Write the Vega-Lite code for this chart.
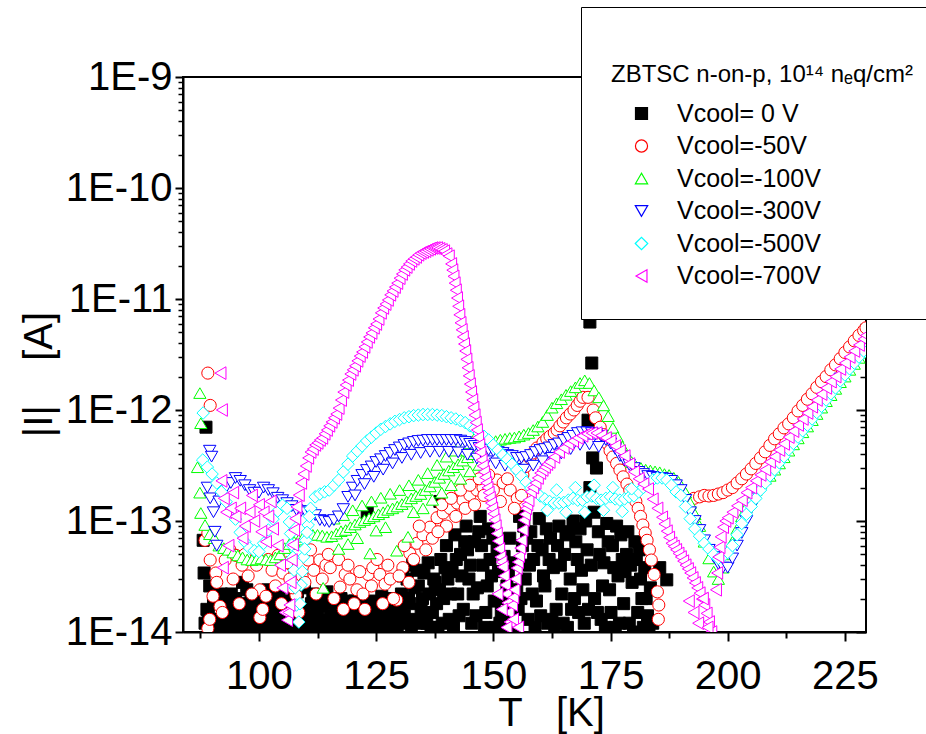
{
"$schema":"https://vega.github.io/schema/vega-lite/v6.json",
"width":683,"height":555,
"autosize":{"type":"none"},
"padding":{"left":183,"top":77,"right":60,"bottom":102},
"background":"white",
"config":{"view":{"stroke":"black","strokeWidth":2},"font":"Liberation Sans","axis":{"grid":false}},
"data":{"values":[
{"V":"0","T":88.1,"I":6.7e-14},{"V":"0","T":88.3,"I":3.4e-14},{"V":"0","T":88.7,"I":7.0e-13},{"V":"0","T":88.5,"I":1.2e-14},{"V":"0","T":89.2,"I":1.5e-14},{"V":"0","T":89.8,"I":1.1e-14},{"V":"0","T":90.3,"I":1.8e-14},{"V":"0","T":90.9,"I":1.3e-14},{"V":"0","T":91.5,"I":1.0e-14},{"V":"0","T":92.0,"I":2.2e-14},{"V":"0","T":92.6,"I":1.4e-14},{"V":"0","T":93.2,"I":1.2e-14},{"V":"0","T":93.8,"I":1.7e-14},{"V":"0","T":94.4,"I":1.1e-14},{"V":"0","T":95.0,"I":2.0e-14},{"V":"0","T":95.6,"I":1.3e-14},{"V":"0","T":96.2,"I":1.6e-14},{"V":"0","T":96.8,"I":1.1e-14},{"V":"0","T":97.4,"I":2.4e-14},{"V":"0","T":98.0,"I":1.5e-14},{"V":"0","T":98.6,"I":1.2e-14},{"V":"0","T":99.2,"I":1.8e-14},{"V":"0","T":99.8,"I":1.05e-14},{"V":"0","T":100.4,"I":1.4e-14},{"V":"0","T":101.0,"I":2.1e-14},{"V":"0","T":101.6,"I":1.2e-14},{"V":"0","T":102.2,"I":1.6e-14},{"V":"0","T":102.8,"I":1.1e-14},{"V":"0","T":103.4,"I":1.9e-14},{"V":"0","T":104.0,"I":1.3e-14},{"V":"0","T":104.6,"I":1.0e-14},{"V":"0","T":105.2,"I":1.5e-14},{"V":"0","T":105.8,"I":1.2e-14},{"V":"0","T":106.4,"I":1.7e-14},{"V":"0","T":107.0,"I":1.1e-14},{"V":"0","T":107.6,"I":1.4e-14},{"V":"0","T":108.2,"I":2.3e-14},{"V":"0","T":108.8,"I":1.2e-14},{"V":"0","T":109.4,"I":1.6e-14},{"V":"0","T":110.0,"I":1.05e-14},{"V":"0","T":110.6,"I":1.3e-14},{"V":"0","T":111.2,"I":1.8e-14},{"V":"0","T":111.8,"I":1.1e-14},{"V":"0","T":112.4,"I":1.5e-14},{"V":"0","T":113.0,"I":1.2e-14},{"V":"0","T":113.6,"I":2.0e-14},{"V":"0","T":114.2,"I":1.3e-14},{"V":"0","T":114.8,"I":1.05e-14},{"V":"0","T":115.4,"I":1.4e-14},{"V":"0","T":116.0,"I":1.1e-14},{"V":"0","T":116.6,"I":1.7e-14},{"V":"0","T":117.2,"I":1.2e-14},{"V":"0","T":117.8,"I":1.5e-14},{"V":"0","T":118.4,"I":1.0e-14},{"V":"0","T":119.0,"I":1.9e-14},{"V":"0","T":119.6,"I":1.3e-14},{"V":"0","T":120.2,"I":1.1e-14},{"V":"0","T":120.8,"I":1.6e-14},{"V":"0","T":121.4,"I":1.2e-14},{"V":"0","T":122.0,"I":1.4e-14},{"V":"0","T":122.6,"I":1.05e-14},{"V":"0","T":123.1,"I":1.2e-13},{"V":"0","T":123.2,"I":1.8e-14},{"V":"0","T":123.8,"I":1.3e-14},{"V":"0","T":124.4,"I":1.1e-14},{"V":"0","T":125.0,"I":1.6e-14},{"V":"0","T":125.6,"I":1.2e-14},{"V":"0","T":126.2,"I":2.1e-14},{"V":"0","T":126.8,"I":1.3e-14},{"V":"0","T":127.4,"I":1.1e-14},{"V":"0","T":128.0,"I":1.5e-14},{"V":"0","T":128.6,"I":1.2e-14},{"V":"0","T":129.2,"I":1.7e-14},{"V":"0","T":129.8,"I":1.3e-14},{"V":"0","T":130.4,"I":2.2e-14},{"V":"0","T":131.0,"I":1.4e-14},{"V":"0","T":131.6,"I":3.0e-14},{"V":"0","T":132.2,"I":1.8e-14},{"V":"0","T":132.8,"I":4.0e-14},{"V":"0","T":133.4,"I":1.3e-14},{"V":"0","T":134.0,"I":2.6e-14},{"V":"0","T":134.6,"I":1.6e-14},{"V":"0","T":135.2,"I":3.4e-14},{"V":"0","T":135.8,"I":1.2e-14},{"V":"0","T":136.4,"I":2.2e-14},{"V":"0","T":137.0,"I":1.5e-14},{"V":"0","T":137.6,"I":2.8e-14},{"V":"0","T":138.2,"I":1.1e-14},{"V":"0","T":138.6,"I":1.5e-13},{"V":"0","T":138.8,"I":4.5e-14},{"V":"0","T":139.4,"I":2.0e-14},{"V":"0","T":140.0,"I":6.0e-14},{"V":"0","T":140.3,"I":3.0e-14},{"V":"0","T":140.6,"I":1.3e-14},{"V":"0","T":141.2,"I":3.5e-14},{"V":"0","T":141.8,"I":7.5e-14},{"V":"0","T":142.4,"I":2.2e-14},{"V":"0","T":142.7,"I":1.4e-14},{"V":"0","T":143.0,"I":5.0e-14},{"V":"0","T":143.6,"I":1.6e-14},{"V":"0","T":144.2,"I":9.0e-14},{"V":"0","T":144.5,"I":5.5e-14},{"V":"0","T":144.8,"I":3.0e-14},{"V":"0","T":145.4,"I":1.2e-14},{"V":"0","T":145.7,"I":2.2e-14},{"V":"0","T":146.0,"I":6.5e-14},{"V":"0","T":146.6,"I":2.5e-14},{"V":"0","T":147.2,"I":1.1e-13},{"V":"0","T":147.5,"I":6.0e-14},{"V":"0","T":147.8,"I":4.0e-14},{"V":"0","T":148.4,"I":1.5e-14},{"V":"0","T":148.7,"I":2.6e-14},{"V":"0","T":149.0,"I":8.5e-14},{"V":"0","T":149.6,"I":3.2e-14},{"V":"0","T":150.2,"I":1.9e-14},{"V":"0","T":150.5,"I":1.1e-14},{"V":"0","T":150.8,"I":5.5e-14},{"V":"0","T":151.4,"I":1.2e-14},{"V":"0","T":152.0,"I":2.0e-14},{"V":"0","T":152.6,"I":1.1e-14},{"V":"0","T":153.2,"I":3.5e-14},{"V":"0","T":153.8,"I":1.4e-14},{"V":"0","T":154.4,"I":1.0e-14},{"V":"0","T":155.0,"I":2.4e-14},{"V":"0","T":155.3,"I":1.6e-14},{"V":"0","T":155.6,"I":1.1e-13},{"V":"0","T":156.2,"I":6.0e-14},{"V":"0","T":156.5,"I":9.0e-14},{"V":"0","T":156.8,"I":3.0e-14},{"V":"0","T":157.4,"I":1.3e-14},{"V":"0","T":158.0,"I":8.0e-14},{"V":"0","T":158.3,"I":2.2e-14},{"V":"0","T":158.6,"I":4.5e-14},{"V":"0","T":159.2,"I":1.9e-14},{"V":"0","T":159.8,"I":1.05e-13},{"V":"0","T":160.1,"I":1.4e-14},{"V":"0","T":160.4,"I":5.5e-14},{"V":"0","T":161.0,"I":2.6e-14},{"V":"0","T":161.3,"I":8.5e-14},{"V":"0","T":161.6,"I":1.2e-14},{"V":"0","T":162.2,"I":7.0e-14},{"V":"0","T":162.8,"I":3.8e-14},{"V":"0","T":163.1,"I":1.1e-14},{"V":"0","T":163.4,"I":1.6e-14},{"V":"0","T":164.0,"I":9.0e-14},{"V":"0","T":164.3,"I":4.0e-14},{"V":"0","T":164.6,"I":2.2e-14},{"V":"0","T":165.2,"I":5.0e-14},{"V":"0","T":165.8,"I":1.1e-14},{"V":"0","T":166.1,"I":8.0e-14},{"V":"0","T":166.4,"I":3.0e-14},{"V":"0","T":167.0,"I":1.0e-13},{"V":"0","T":167.3,"I":2.0e-14},{"V":"0","T":167.6,"I":6.5e-14},{"V":"0","T":168.2,"I":1.5e-14},{"V":"0","T":168.8,"I":3.6e-14},{"V":"0","T":169.4,"I":1.2e-14},{"V":"0","T":170.0,"I":5.5e-14},{"V":"0","T":170.2,"I":8.1e-13},{"V":"0","T":170.6,"I":6.2e-12},{"V":"0","T":171.0,"I":2.65e-12},{"V":"0","T":170.6,"I":2.0e-13},{"V":"0","T":171.2,"I":3.7e-13},{"V":"0","T":172.0,"I":3.0e-13},{"V":"0","T":171.6,"I":2.0e-14},{"V":"0","T":172.4,"I":8.0e-14},{"V":"0","T":173.0,"I":1.3e-14},{"V":"0","T":173.3,"I":2.6e-14},{"V":"0","T":173.6,"I":4.2e-14},{"V":"0","T":174.2,"I":9.5e-14},{"V":"0","T":174.8,"I":2.4e-14},{"V":"0","T":175.1,"I":1.5e-14},{"V":"0","T":175.4,"I":6.0e-14},{"V":"0","T":176.0,"I":1.1e-14},{"V":"0","T":176.3,"I":9.0e-14},{"V":"0","T":176.6,"I":3.2e-14},{"V":"0","T":177.2,"I":7.5e-14},{"V":"0","T":177.8,"I":1.8e-14},{"V":"0","T":178.1,"I":3.5e-14},{"V":"0","T":178.4,"I":5.0e-14},{"V":"0","T":179.0,"I":1.2e-14},{"V":"0","T":179.6,"I":2.8e-14},{"V":"0","T":180.2,"I":6.5e-14},{"V":"0","T":180.5,"I":4.5e-14},{"V":"0","T":180.8,"I":1.5e-14},{"V":"0","T":181.4,"I":3.0e-14},{"V":"0","T":182.0,"I":1.1e-14},{"V":"0","T":182.6,"I":2.0e-14},{"V":"0","T":183.2,"I":1.05e-14},{"V":"0","T":185.5,"I":3.8e-14},{"V":"0","T":187.0,"I":2.95e-14},
{"V":"0","T":88.9,"I":1.6e-14},{"V":"0","T":89.5,"I":2.6e-14},{"V":"0","T":90.6,"I":1.1e-14},{"V":"0","T":91.2,"I":1.9e-14},{"V":"0","T":91.8,"I":1.3e-14},{"V":"0","T":92.3,"I":1.05e-14},{"V":"0","T":92.9,"I":1.8e-14},{"V":"0","T":93.5,"I":1.1e-14},{"V":"0","T":94.1,"I":2.2e-14},{"V":"0","T":94.7,"I":1.4e-14},{"V":"0","T":95.3,"I":1.1e-14},{"V":"0","T":95.9,"I":1.8e-14},{"V":"0","T":96.5,"I":2.8e-14},{"V":"0","T":97.1,"I":1.3e-14},{"V":"0","T":97.7,"I":1.1e-14},{"V":"0","T":98.3,"I":1.9e-14},{"V":"0","T":98.9,"I":1.5e-14},{"V":"0","T":99.5,"I":2.2e-14},{"V":"0","T":100.1,"I":1.2e-14},{"V":"0","T":100.7,"I":1.7e-14},{"V":"0","T":101.3,"I":1.1e-14},{"V":"0","T":101.9,"I":2.4e-14},{"V":"0","T":102.5,"I":1.3e-14},{"V":"0","T":103.1,"I":1.05e-14},{"V":"0","T":103.7,"I":1.6e-14},{"V":"0","T":104.3,"I":2.1e-14},{"V":"0","T":104.9,"I":1.3e-14},{"V":"0","T":105.5,"I":1.9e-14},{"V":"0","T":106.1,"I":1.1e-14},{"V":"0","T":106.7,"I":1.4e-14},{"V":"0","T":107.3,"I":2.0e-14},{"V":"0","T":107.9,"I":1.2e-14},{"V":"0","T":108.5,"I":1.6e-14},{"V":"0","T":109.1,"I":1.1e-14},{"V":"0","T":109.7,"I":2.5e-14},{"V":"0","T":110.3,"I":1.4e-14},{"V":"0","T":110.9,"I":1.2e-14},{"V":"0","T":111.5,"I":2.2e-14},{"V":"0","T":112.1,"I":1.3e-14},{"V":"0","T":112.7,"I":1.1e-14},{"V":"0","T":113.3,"I":1.7e-14},{"V":"0","T":113.9,"I":1.2e-14},{"V":"0","T":114.5,"I":2.3e-14},{"V":"0","T":115.1,"I":1.1e-14},{"V":"0","T":115.7,"I":1.8e-14},{"V":"0","T":116.3,"I":1.3e-14},{"V":"0","T":116.9,"I":1.05e-14},{"V":"0","T":117.5,"I":2.0e-14},{"V":"0","T":118.1,"I":1.3e-14},{"V":"0","T":118.7,"I":1.6e-14},{"V":"0","T":119.3,"I":1.1e-14},{"V":"0","T":119.9,"I":1.5e-14},{"V":"0","T":120.5,"I":1.9e-14},{"V":"0","T":121.1,"I":1.1e-14},{"V":"0","T":121.7,"I":1.7e-14},{"V":"0","T":122.3,"I":1.2e-14},{"V":"0","T":122.9,"I":1.5e-14},{"V":"0","T":123.5,"I":1.05e-14},{"V":"0","T":124.1,"I":1.9e-14},{"V":"0","T":124.7,"I":1.3e-14},{"V":"0","T":125.3,"I":1.1e-14},{"V":"0","T":125.9,"I":1.7e-14},{"V":"0","T":126.5,"I":1.2e-14},{"V":"0","T":127.1,"I":1.6e-14},{"V":"0","T":127.7,"I":2.0e-14},{"V":"0","T":128.3,"I":1.1e-14},{"V":"0","T":128.9,"I":1.4e-14},{"V":"0","T":129.5,"I":1.1e-14},{"V":"0","T":130.1,"I":1.6e-14},{"V":"0","T":130.7,"I":3.2e-14},{"V":"0","T":131.3,"I":1.2e-14},{"V":"0","T":131.9,"I":2.0e-14},{"V":"0","T":132.5,"I":1.1e-14},{"V":"0","T":133.1,"I":2.5e-14},{"V":"0","T":133.7,"I":3.6e-14},{"V":"0","T":134.3,"I":1.2e-14},{"V":"0","T":134.9,"I":2.0e-14},{"V":"0","T":135.5,"I":1.4e-14},{"V":"0","T":136.1,"I":4.2e-14},{"V":"0","T":136.7,"I":1.1e-14},{"V":"0","T":137.3,"I":3.0e-14},{"V":"0","T":137.9,"I":1.8e-14},{"V":"0","T":138.5,"I":2.4e-14},{"V":"0","T":139.1,"I":1.2e-14},{"V":"0","T":139.7,"I":3.8e-14},{"V":"0","T":140.9,"I":2.2e-14},{"V":"0","T":141.5,"I":1.1e-14},{"V":"0","T":142.1,"I":4.5e-14},{"V":"0","T":143.3,"I":3.2e-14},{"V":"0","T":143.9,"I":6.5e-14},{"V":"0","T":145.1,"I":4.0e-14},{"V":"0","T":146.3,"I":1.4e-14},{"V":"0","T":146.9,"I":8.0e-14},{"V":"0","T":148.1,"I":1.1e-14},{"V":"0","T":149.3,"I":4.5e-14},{"V":"0","T":149.9,"I":7.0e-14},{"V":"0","T":151.1,"I":3.5e-14},{"V":"0","T":151.7,"I":1.5e-14},{"V":"0","T":152.3,"I":4.8e-14},{"V":"0","T":152.9,"I":2.6e-14},{"V":"0","T":153.5,"I":7.0e-14},{"V":"0","T":154.1,"I":1.8e-14},{"V":"0","T":154.7,"I":4.2e-14},{"V":"0","T":155.9,"I":2.0e-14},{"V":"0","T":157.1,"I":7.0e-14},{"V":"0","T":157.7,"I":4.0e-14},{"V":"0","T":158.9,"I":1.1e-14},{"V":"0","T":159.5,"I":6.0e-14},{"V":"0","T":160.7,"I":3.2e-14},{"V":"0","T":161.9,"I":4.5e-14},{"V":"0","T":162.5,"I":1.3e-14},{"V":"0","T":163.7,"I":6.0e-14},{"V":"0","T":164.9,"I":1.2e-14},{"V":"0","T":165.5,"I":7.5e-14},{"V":"0","T":166.7,"I":1.6e-14},{"V":"0","T":167.9,"I":4.5e-14},{"V":"0","T":168.5,"I":8.5e-14},{"V":"0","T":169.1,"I":2.4e-14},{"V":"0","T":169.7,"I":1.0e-13},{"V":"0","T":170.3,"I":1.6e-14},{"V":"0","T":170.9,"I":4.0e-14},{"V":"0","T":171.5,"I":1.2e-13},{"V":"0","T":172.2,"I":1.5e-14},{"V":"0","T":172.7,"I":5.0e-14},{"V":"0","T":173.9,"I":1.1e-14},{"V":"0","T":174.5,"I":6.5e-14},{"V":"0","T":175.7,"I":3.8e-14},{"V":"0","T":176.9,"I":1.2e-14},{"V":"0","T":177.5,"I":4.5e-14},{"V":"0","T":178.7,"I":8.0e-14},{"V":"0","T":179.3,"I":4.0e-14},{"V":"0","T":179.9,"I":1.0e-14},{"V":"0","T":181.1,"I":5.5e-14},{"V":"0","T":181.7,"I":2.0e-14},{"V":"0","T":182.3,"I":3.8e-14},{"V":"0","T":182.9,"I":1.4e-14},{"V":"0","T":183.5,"I":2.5e-14},{"V":"0","T":184.0,"I":1.2e-14},
{"V":"-50","T":89.1,"I":2.15e-12},{"V":"-50","T":89.6,"I":1.1e-12},{"V":"-50","T":88.5,"I":6.7e-14},{"V":"-50","T":89.1,"I":7.8e-14},{"V":"-50","T":89.6,"I":4.45e-14},{"V":"-50","T":90.2,"I":2.1e-14},{"V":"-50","T":90.8,"I":3.4e-14},{"V":"-50","T":91.7,"I":1.7e-14},{"V":"-50","T":89.1,"I":1.08e-14},{"V":"-50","T":92.8,"I":4.45e-14},{"V":"-50","T":93.8,"I":5.5e-14},{"V":"-50","T":95.1,"I":4.9e-14},{"V":"-50","T":96.4,"I":4.0e-14},{"V":"-50","T":97.7,"I":3.2e-14},{"V":"-50","T":99.0,"I":4.45e-14},{"V":"-50","T":100.2,"I":2.4e-14},{"V":"-50","T":100.2,"I":1.35e-14},{"V":"-50","T":101.5,"I":2.1e-14},{"V":"-50","T":102.8,"I":3.6e-14},{"V":"-50","T":104.1,"I":4.9e-14},{"V":"-50","T":105.1,"I":3.4e-14},{"V":"-50","T":106.6,"I":3.0e-14},{"V":"-50","T":107.9,"I":2.15e-14},{"V":"-50","T":109.2,"I":3.2e-14},{"V":"-50","T":110.5,"I":4.45e-14},{"V":"-50","T":111.7,"I":3.6e-14},{"V":"-50","T":113.0,"I":4.45e-14},{"V":"-50","T":114.3,"I":4.0e-14},{"V":"-50","T":115.2,"I":3.8e-14},{"V":"-50","T":117.3,"I":2.54e-14},{"V":"-50","T":118.4,"I":3.3e-14},{"V":"-50","T":119.4,"I":3.0e-14},{"V":"-50","T":120.9,"I":2.4e-14},{"V":"-50","T":122.2,"I":2.2e-14},{"V":"-50","T":123.3,"I":3.3e-14},{"V":"-50","T":124.3,"I":3.8e-14},{"V":"-50","T":125.8,"I":3.3e-14},{"V":"-50","T":126.9,"I":2.7e-14},{"V":"-50","T":128.0,"I":3.0e-14},{"V":"-50","T":129.4,"I":1.94e-14},{"V":"-50","T":130.7,"I":3.8e-14},{"V":"-50","T":132.2,"I":5.1e-14},{"V":"-50","T":133.7,"I":6.3e-14},{"V":"-50","T":135.0,"I":7.5e-14},{"V":"-50","T":136.5,"I":8.8e-14},{"V":"-50","T":138.0,"I":1.07e-13},{"V":"-50","T":139.3,"I":1.18e-13},{"V":"-50","T":140.8,"I":1.3e-13},{"V":"-50","T":142.3,"I":1.45e-13},{"V":"-50","T":143.5,"I":1.54e-13},{"V":"-50","T":145.0,"I":1.71e-13},{"V":"-50","T":146.5,"I":1.9e-13},{"V":"-50","T":147.8,"I":2.0e-13},{"V":"-50","T":149.3,"I":2.2e-13},{"V":"-50","T":150.8,"I":2.34e-13},{"V":"-50","T":152.1,"I":2.2e-13},{"V":"-50","T":153.6,"I":1.9e-13},{"V":"-50","T":155.1,"I":1.6e-13},{"V":"-50","T":156.3,"I":2.6e-13},{"V":"-50","T":156.9,"I":3.1e-13},{"V":"-50","T":157.8,"I":3.7e-13},{"V":"-50","T":158.5,"I":4.1e-13},{"V":"-50","T":159.3,"I":4.55e-13},{"V":"-50","T":160.6,"I":5.1e-13},{"V":"-50","T":161.4,"I":5.5e-13},{"V":"-50","T":162.1,"I":5.8e-13},{"V":"-50","T":163.0,"I":6.2e-13},{"V":"-50","T":163.6,"I":6.6e-13},{"V":"-50","T":164.2,"I":7.2e-13},{"V":"-50","T":164.9,"I":7.8e-13},{"V":"-50","T":165.6,"I":8.5e-13},{"V":"-50","T":166.4,"I":9.2e-13},{"V":"-50","T":167.2,"I":1.0e-12},{"V":"-50","T":167.9,"I":1.1e-12},{"V":"-50","T":168.5,"I":1.2e-12},{"V":"-50","T":169.1,"I":1.3e-12},{"V":"-50","T":170.2,"I":1.3e-12},{"V":"-50","T":171.3,"I":1.0e-12},{"V":"-50","T":171.8,"I":8.5e-13},{"V":"-50","T":172.8,"I":7.0e-13},{"V":"-50","T":173.5,"I":6.0e-13},{"V":"-50","T":174.3,"I":5.0e-13},{"V":"-50","T":174.9,"I":4.3e-13},{"V":"-50","T":175.5,"I":3.77e-13},{"V":"-50","T":176.3,"I":3.3e-13},{"V":"-50","T":177.0,"I":2.88e-13},{"V":"-50","T":177.7,"I":2.5e-13},{"V":"-50","T":178.5,"I":2.15e-13},{"V":"-50","T":179.1,"I":1.9e-13},{"V":"-50","T":179.8,"I":1.71e-13},{"V":"-50","T":180.4,"I":1.5e-13},{"V":"-50","T":180.9,"I":1.3e-13},{"V":"-50","T":181.4,"I":1.1e-13},{"V":"-50","T":181.9,"I":9.2e-14},{"V":"-50","T":182.4,"I":7.8e-14},{"V":"-50","T":182.8,"I":6.7e-14},{"V":"-50","T":183.3,"I":5.5e-14},{"V":"-50","T":183.7,"I":4.45e-14},{"V":"-50","T":184.3,"I":3.3e-14},{"V":"-50","T":185.0,"I":2.3e-14},{"V":"-50","T":185.2,"I":1.3e-14},{"V":"-50","T":185.3,"I":1.75e-14},
{"V":"-50","T":140.0,"I":9.0e-14},{"V":"-50","T":142.0,"I":1.1e-13},{"V":"-50","T":144.0,"I":1.3e-13},{"V":"-50","T":146.0,"I":1.4e-13},{"V":"-50","T":148.0,"I":1.7e-13},{"V":"-50","T":150.0,"I":1.9e-13},{"V":"-50","T":139.0,"I":1.4e-13},{"V":"-50","T":141.0,"I":1.6e-13},{"V":"-50","T":143.0,"I":1.9e-13},{"V":"-50","T":145.0,"I":2.1e-13},{"V":"-50","T":147.0,"I":2.4e-13},{"V":"-50","T":149.0,"I":2.6e-13},{"V":"-50","T":151.5,"I":1.5e-13},{"V":"-50","T":153.0,"I":2.4e-13},{"V":"-50","T":154.5,"I":1.3e-13},{"V":"-50","T":156.0,"I":1.7e-13},
{"V":"-50","T":89.5,"I":1.3e-14},{"V":"-50","T":91.0,"I":2.8e-14},{"V":"-50","T":92.2,"I":1.5e-14},{"V":"-50","T":94.5,"I":3.0e-14},{"V":"-50","T":95.8,"I":1.8e-14},{"V":"-50","T":97.0,"I":5.0e-14},{"V":"-50","T":98.5,"I":2.2e-14},{"V":"-50","T":99.5,"I":4.0e-14},{"V":"-50","T":100.8,"I":1.6e-14},{"V":"-50","T":102.0,"I":4.5e-14},{"V":"-50","T":103.5,"I":2.6e-14},{"V":"-50","T":104.8,"I":1.8e-14},{"V":"-50","T":106.0,"I":4.2e-14},{"V":"-50","T":107.2,"I":2.5e-14},{"V":"-50","T":108.5,"I":1.5e-14},{"V":"-50","T":109.8,"I":2.8e-14},{"V":"-50","T":111.0,"I":5.5e-14},{"V":"-50","T":112.2,"I":2.2e-14},{"V":"-50","T":113.5,"I":3.0e-14},{"V":"-50","T":114.8,"I":5.0e-14},{"V":"-50","T":116.0,"I":2.0e-14},{"V":"-50","T":117.0,"I":4.5e-14},{"V":"-50","T":118.0,"I":1.6e-14},{"V":"-50","T":119.0,"I":4.0e-14},{"V":"-50","T":120.3,"I":1.8e-14},{"V":"-50","T":121.5,"I":3.5e-14},{"V":"-50","T":122.6,"I":1.6e-14},{"V":"-50","T":124.0,"I":2.6e-14},{"V":"-50","T":125.2,"I":4.5e-14},{"V":"-50","T":126.4,"I":1.8e-14},{"V":"-50","T":127.5,"I":4.0e-14},{"V":"-50","T":128.7,"I":2.0e-14},{"V":"-50","T":129.9,"I":3.2e-14},{"V":"-50","T":131.0,"I":6.0e-14},{"V":"-50","T":132.0,"I":2.8e-14},{"V":"-50","T":133.0,"I":4.5e-14},{"V":"-50","T":134.2,"I":9.0e-14},{"V":"-50","T":135.6,"I":5.5e-14},{"V":"-50","T":137.0,"I":7.0e-14},{"V":"-50","T":138.2,"I":8.0e-14},
{"V":"-50","T":192.8,"I":1.6e-13},{"V":"-50","T":194,"I":1.65e-13},{"V":"-50","T":195,"I":1.7e-13},{"V":"-50","T":196,"I":1.68e-13},{"V":"-50","T":197,"I":1.7e-13},{"V":"-50","T":198,"I":1.75e-13},{"V":"-50","T":199,"I":1.8e-13},{"V":"-50","T":200,"I":1.9e-13},{"V":"-50","T":201,"I":2.0e-13},{"V":"-50","T":202,"I":2.2e-13},{"V":"-50","T":203,"I":2.4e-13},{"V":"-50","T":204,"I":2.65e-13},{"V":"-50","T":205,"I":2.95e-13},{"V":"-50","T":206,"I":3.3e-13},{"V":"-50","T":207,"I":3.7e-13},{"V":"-50","T":208,"I":4.2e-13},{"V":"-50","T":209,"I":4.8e-13},{"V":"-50","T":210,"I":5.5e-13},{"V":"-50","T":211,"I":6.1e-13},{"V":"-50","T":212,"I":6.9e-13},{"V":"-50","T":213,"I":7.5e-13},{"V":"-50","T":214,"I":8.5e-13},{"V":"-50","T":215,"I":9.8e-13},{"V":"-50","T":216,"I":1.1e-12},{"V":"-50","T":217,"I":1.25e-12},{"V":"-50","T":218,"I":1.4e-12},{"V":"-50","T":219,"I":1.6e-12},{"V":"-50","T":220,"I":1.8e-12},{"V":"-50","T":221,"I":2.0e-12},{"V":"-50","T":222,"I":2.3e-12},{"V":"-50","T":223,"I":2.55e-12},{"V":"-50","T":224,"I":2.9e-12},{"V":"-50","T":225,"I":3.3e-12},{"V":"-50","T":226,"I":3.7e-12},{"V":"-50","T":227,"I":4.2e-12},{"V":"-50","T":228,"I":4.7e-12},{"V":"-50","T":229,"I":5.2e-12},{"V":"-50","T":229.5,"I":5.5e-12},
{"V":"-100","T":87.4,"I":1.42e-12},{"V":"-100","T":87.6,"I":7.6e-13},{"V":"-100","T":86.9,"I":3.05e-13},{"V":"-100","T":87.4,"I":1.8e-13},{"V":"-100","T":87.6,"I":1.18e-13},{"V":"-100","T":88.5,"I":9.2e-14},{"V":"-100","T":89.5,"I":7.6e-14},{"V":"-100","T":90.5,"I":7.0e-14},{"V":"-100","T":91.5,"I":6.0e-14},{"V":"-100","T":92.5,"I":5.7e-14},{"V":"-100","T":93.5,"I":5.5e-14},{"V":"-100","T":94.5,"I":5.2e-14},{"V":"-100","T":95.5,"I":4.9e-14},{"V":"-100","T":96.5,"I":4.7e-14},{"V":"-100","T":97.5,"I":4.5e-14},{"V":"-100","T":98.5,"I":4.45e-14},{"V":"-100","T":99.5,"I":4.5e-14},{"V":"-100","T":100.5,"I":4.6e-14},{"V":"-100","T":101.5,"I":4.5e-14},{"V":"-100","T":102.5,"I":4.45e-14},{"V":"-100","T":103.5,"I":4.7e-14},{"V":"-100","T":104.5,"I":5.0e-14},{"V":"-100","T":105.5,"I":5.7e-14},{"V":"-100","T":106.5,"I":6.2e-14},{"V":"-100","T":107.5,"I":6.5e-14},{"V":"-100","T":108.5,"I":6.8e-14},{"V":"-100","T":109.5,"I":7.2e-14},{"V":"-100","T":110.5,"I":7.5e-14},{"V":"-100","T":111.5,"I":7.5e-14},{"V":"-100","T":112.5,"I":7.5e-14},{"V":"-100","T":113.5,"I":7.4e-14},{"V":"-100","T":114.5,"I":7.2e-14},{"V":"-100","T":115.5,"I":7.3e-14},{"V":"-100","T":116.5,"I":7.7e-14},{"V":"-100","T":117.5,"I":8.1e-14},{"V":"-100","T":118.5,"I":8.3e-14},{"V":"-100","T":119.5,"I":8.8e-14},{"V":"-100","T":120.5,"I":9.3e-14},{"V":"-100","T":121.5,"I":9.8e-14},{"V":"-100","T":122.5,"I":1.02e-13},{"V":"-100","T":123.5,"I":1.06e-13},{"V":"-100","T":124.5,"I":1.1e-13},{"V":"-100","T":125.5,"I":1.15e-13},{"V":"-100","T":126.5,"I":1.2e-13},{"V":"-100","T":127.5,"I":1.26e-13},{"V":"-100","T":128.5,"I":1.3e-13},{"V":"-100","T":129.5,"I":1.35e-13},{"V":"-100","T":130.5,"I":1.42e-13},{"V":"-100","T":131.5,"I":1.5e-13},{"V":"-100","T":132.5,"I":1.6e-13},{"V":"-100","T":133.5,"I":1.68e-13},{"V":"-100","T":134.5,"I":1.75e-13},{"V":"-100","T":135.5,"I":1.9e-13},{"V":"-100","T":136.5,"I":2.05e-13},{"V":"-100","T":137.5,"I":2.25e-13},{"V":"-100","T":138.5,"I":2.45e-13},{"V":"-100","T":139.5,"I":2.65e-13},{"V":"-100","T":140.5,"I":2.85e-13},{"V":"-100","T":141.5,"I":3.05e-13},{"V":"-100","T":142.5,"I":3.25e-13},{"V":"-100","T":143.5,"I":3.5e-13},{"V":"-100","T":144.5,"I":3.75e-13},{"V":"-100","T":145.5,"I":4.0e-13},{"V":"-100","T":146.5,"I":4.25e-13},{"V":"-100","T":147.5,"I":4.5e-13},{"V":"-100","T":148.5,"I":4.75e-13},{"V":"-100","T":149.5,"I":5.0e-13},{"V":"-100","T":150.5,"I":5.25e-13},{"V":"-100","T":151.5,"I":5.4e-13},{"V":"-100","T":152.5,"I":5.5e-13},{"V":"-100","T":153.5,"I":5.6e-13},{"V":"-100","T":154.5,"I":5.65e-13},{"V":"-100","T":155.5,"I":5.8e-13},{"V":"-100","T":156.5,"I":6.0e-13},{"V":"-100","T":157.5,"I":6.2e-13},{"V":"-100","T":158.5,"I":6.6e-13},{"V":"-100","T":159.5,"I":7.1e-13},{"V":"-100","T":160.5,"I":7.8e-13},{"V":"-100","T":161.5,"I":9.0e-13},{"V":"-100","T":162.5,"I":1.05e-12},{"V":"-100","T":163.5,"I":1.15e-12},{"V":"-100","T":164.5,"I":1.25e-12},{"V":"-100","T":165.5,"I":1.37e-12},{"V":"-100","T":166.5,"I":1.48e-12},{"V":"-100","T":167.5,"I":1.6e-12},{"V":"-100","T":168.5,"I":1.75e-12},{"V":"-100","T":169.5,"I":1.85e-12},{"V":"-100","T":170.5,"I":1.75e-12},{"V":"-100","T":171.5,"I":1.5e-12},{"V":"-100","T":172.5,"I":1.3e-12},{"V":"-100","T":173.5,"I":1.1e-12},{"V":"-100","T":174.5,"I":8.8e-13},{"V":"-100","T":175.5,"I":6.9e-13},{"V":"-100","T":176.5,"I":5.7e-13},{"V":"-100","T":177.5,"I":4.7e-13},{"V":"-100","T":178.5,"I":3.9e-13},{"V":"-100","T":179.5,"I":3.4e-13},{"V":"-100","T":180.5,"I":3.1e-13},{"V":"-100","T":181.5,"I":3.0e-13},{"V":"-100","T":182.5,"I":2.9e-13},{"V":"-100","T":183.5,"I":2.85e-13},{"V":"-100","T":184.5,"I":2.8e-13},{"V":"-100","T":185.5,"I":2.75e-13},{"V":"-100","T":186.5,"I":2.65e-13},{"V":"-100","T":187.5,"I":2.6e-13},{"V":"-100","T":188.5,"I":2.45e-13},{"V":"-100","T":189.5,"I":2.25e-13},
{"V":"-100","T":116,"I":1.05e-13},{"V":"-100","T":118,"I":1.13e-13},{"V":"-100","T":120,"I":1.25e-13},{"V":"-100","T":122,"I":1.38e-13},{"V":"-100","T":124,"I":1.5e-13},{"V":"-100","T":126,"I":1.62e-13},{"V":"-100","T":128,"I":1.76e-13},{"V":"-100","T":130,"I":1.9e-13},{"V":"-100","T":132,"I":2.1e-13},{"V":"-100","T":134,"I":2.35e-13},{"V":"-100","T":136,"I":2.7e-13},{"V":"-100","T":138,"I":3.2e-13},{"V":"-100","T":140,"I":3.8e-13},{"V":"-100","T":142,"I":4.3e-13},{"V":"-100","T":144,"I":5.0e-13},{"V":"-100","T":146,"I":5.6e-13},
{"V":"-100","T":113.7,"I":2.5e-14},{"V":"-100","T":117,"I":5.6e-14},{"V":"-100","T":119,"I":6.2e-14},{"V":"-100","T":121,"I":7.0e-14},{"V":"-100","T":123.7,"I":5.1e-14},{"V":"-100","T":125,"I":8.2e-14},{"V":"-100","T":127,"I":8.8e-14},{"V":"-100","T":129.4,"I":5.4e-14},{"V":"-100","T":131.8,"I":7.2e-14},{"V":"-100","T":133,"I":1.2e-13},{"V":"-100","T":135,"I":1.3e-13},{"V":"-100","T":137,"I":1.55e-13},{"V":"-100","T":139,"I":1.8e-13},{"V":"-100","T":141,"I":2.1e-13},{"V":"-100","T":143,"I":2.4e-13},{"V":"-100","T":145,"I":2.8e-13},{"V":"-100","T":147,"I":3.2e-13},
{"V":"-100","T":190,"I":2.1e-13},{"V":"-100","T":191,"I":1.8e-13},{"V":"-100","T":192,"I":1.45e-13},{"V":"-100","T":193,"I":1.15e-13},{"V":"-100","T":194,"I":9.0e-14},{"V":"-100","T":195,"I":6.5e-14},{"V":"-100","T":196,"I":4.6e-14},{"V":"-100","T":197,"I":3.5e-14},{"V":"-100","T":198,"I":3.0e-14},{"V":"-100","T":199,"I":3.8e-14},{"V":"-100","T":200,"I":5.0e-14},{"V":"-100","T":201,"I":6.5e-14},{"V":"-100","T":202,"I":8.5e-14},{"V":"-100","T":203,"I":1.1e-13},{"V":"-100","T":204,"I":1.35e-13},{"V":"-100","T":205,"I":1.6e-13},{"V":"-100","T":206,"I":1.9e-13},{"V":"-100","T":207,"I":2.2e-13},{"V":"-100","T":208,"I":2.4e-13},{"V":"-100","T":209,"I":2.55e-13},{"V":"-100","T":210,"I":2.9e-13},{"V":"-100","T":211,"I":3.3e-13},{"V":"-100","T":212,"I":3.75e-13},{"V":"-100","T":213,"I":4.3e-13},{"V":"-100","T":214,"I":4.9e-13},{"V":"-100","T":215,"I":5.55e-13},{"V":"-100","T":216,"I":6.3e-13},{"V":"-100","T":217,"I":7.1e-13},{"V":"-100","T":218,"I":8.1e-13},{"V":"-100","T":219,"I":9.2e-13},{"V":"-100","T":220,"I":1.05e-12},{"V":"-100","T":221,"I":1.2e-12},{"V":"-100","T":222,"I":1.36e-12},{"V":"-100","T":223,"I":1.55e-12},{"V":"-100","T":224,"I":1.78e-12},{"V":"-100","T":225,"I":2.0e-12},{"V":"-100","T":226,"I":2.3e-12},{"V":"-100","T":227,"I":2.6e-12},{"V":"-100","T":228,"I":2.95e-12},{"V":"-100","T":229,"I":3.3e-12},
{"V":"-300","T":89.5,"I":4.3e-13},{"V":"-300","T":89.9,"I":3.8e-13},{"V":"-300","T":89.0,"I":2.0e-13},{"V":"-300","T":89.6,"I":1.6e-13},{"V":"-300","T":90.3,"I":1.2e-13},{"V":"-300","T":90.6,"I":8.0e-14},{"V":"-300","T":91.0,"I":6.0e-14},{"V":"-300","T":91.5,"I":1.5e-13},{"V":"-300","T":92,"I":1.9e-13},{"V":"-300","T":93,"I":2.0e-13},{"V":"-300","T":94,"I":2.2e-13},{"V":"-300","T":95,"I":2.44e-13},{"V":"-300","T":96,"I":2.3e-13},{"V":"-300","T":97,"I":2.1e-13},{"V":"-300","T":98,"I":1.9e-13},{"V":"-300","T":99,"I":1.8e-13},{"V":"-300","T":100,"I":1.8e-13},{"V":"-300","T":101,"I":2.0e-13},{"V":"-300","T":102,"I":1.9e-13},{"V":"-300","T":103,"I":1.78e-13},{"V":"-300","T":104,"I":1.62e-13},{"V":"-300","T":105,"I":1.54e-13},{"V":"-300","T":106,"I":1.45e-13},{"V":"-300","T":107,"I":1.36e-13},{"V":"-300","T":108,"I":1.26e-13},{"V":"-300","T":109,"I":1.23e-13},{"V":"-300","T":110,"I":1.2e-13},{"V":"-300","T":111,"I":1.18e-13},{"V":"-300","T":112,"I":1.13e-13},{"V":"-300","T":113,"I":1.02e-13},{"V":"-300","T":114,"I":1.0e-13},{"V":"-300","T":115,"I":9.8e-14},{"V":"-300","T":116,"I":1.02e-13},{"V":"-300","T":117,"I":1.1e-13},{"V":"-300","T":118,"I":1.28e-13},{"V":"-300","T":119,"I":1.65e-13},{"V":"-300","T":120,"I":2.0e-13},{"V":"-300","T":121,"I":2.3e-13},{"V":"-300","T":122,"I":2.6e-13},{"V":"-300","T":123,"I":2.88e-13},{"V":"-300","T":124,"I":3.1e-13},{"V":"-300","T":125,"I":3.4e-13},{"V":"-300","T":126,"I":3.6e-13},{"V":"-300","T":127,"I":3.85e-13},{"V":"-300","T":128,"I":4.1e-13},{"V":"-300","T":129,"I":4.36e-13},{"V":"-300","T":130,"I":4.6e-13},{"V":"-300","T":131,"I":4.84e-13},{"V":"-300","T":132,"I":5.0e-13},{"V":"-300","T":133,"I":5.15e-13},{"V":"-300","T":134,"I":5.26e-13},{"V":"-300","T":135,"I":5.3e-13},{"V":"-300","T":136,"I":5.37e-13},{"V":"-300","T":137,"I":5.37e-13},{"V":"-300","T":138,"I":5.37e-13},{"V":"-300","T":139,"I":5.37e-13},{"V":"-300","T":140,"I":5.37e-13},{"V":"-300","T":141,"I":5.37e-13},{"V":"-300","T":142,"I":5.37e-13},{"V":"-300","T":143,"I":5.3e-13},{"V":"-300","T":144,"I":5.15e-13},{"V":"-300","T":145,"I":4.95e-13},{"V":"-300","T":146,"I":4.74e-13},{"V":"-300","T":147,"I":4.55e-13},{"V":"-300","T":148,"I":4.45e-13},{"V":"-300","T":149,"I":4.36e-13},{"V":"-300","T":150,"I":4.27e-13},{"V":"-300","T":151,"I":4.18e-13},{"V":"-300","T":152,"I":4.1e-13},{"V":"-300","T":153,"I":3.93e-13},{"V":"-300","T":154,"I":3.85e-13},{"V":"-300","T":155,"I":3.7e-13},{"V":"-300","T":156,"I":3.7e-13},{"V":"-300","T":157,"I":3.77e-13},{"V":"-300","T":158,"I":3.93e-13},{"V":"-300","T":159,"I":4.18e-13},{"V":"-300","T":160,"I":4.36e-13},{"V":"-300","T":161,"I":4.45e-13},{"V":"-300","T":162,"I":4.6e-13},{"V":"-300","T":163,"I":4.84e-13},{"V":"-300","T":164,"I":5.0e-13},{"V":"-300","T":165,"I":5.37e-13},{"V":"-300","T":166,"I":5.6e-13},{"V":"-300","T":167,"I":5.85e-13},{"V":"-300","T":168,"I":6.2e-13},{"V":"-300","T":169,"I":6.3e-13},{"V":"-300","T":170,"I":6.3e-13},{"V":"-300","T":171,"I":6.2e-13},{"V":"-300","T":172,"I":6.1e-13},{"V":"-300","T":173,"I":5.85e-13},{"V":"-300","T":174,"I":5.37e-13},{"V":"-300","T":175,"I":5.0e-13},{"V":"-300","T":176,"I":4.45e-13},{"V":"-300","T":177,"I":3.85e-13},{"V":"-300","T":178,"I":3.5e-13},{"V":"-300","T":179,"I":3.2e-13},{"V":"-300","T":180,"I":3.0e-13},{"V":"-300","T":181,"I":2.77e-13},{"V":"-300","T":182,"I":2.65e-13},{"V":"-300","T":183,"I":2.54e-13},{"V":"-300","T":184,"I":2.5e-13},{"V":"-300","T":185,"I":2.44e-13},{"V":"-300","T":186,"I":2.44e-13},{"V":"-300","T":187,"I":2.4e-13},{"V":"-300","T":188,"I":2.3e-13},{"V":"-300","T":189,"I":2.1e-13},
{"V":"-300","T":120.5,"I":1.7e-13},{"V":"-300","T":122.5,"I":2.15e-13},{"V":"-300","T":124.5,"I":2.5e-13},{"V":"-300","T":126.5,"I":2.9e-13},{"V":"-300","T":128.5,"I":3.3e-13},{"V":"-300","T":130.5,"I":3.7e-13},{"V":"-300","T":132.5,"I":3.95e-13},{"V":"-300","T":134.5,"I":4.1e-13},{"V":"-300","T":136.5,"I":4.2e-13},{"V":"-300","T":138.5,"I":4.2e-13},{"V":"-300","T":140.5,"I":4.2e-13},{"V":"-300","T":142.5,"I":4.15e-13},{"V":"-300","T":144.5,"I":3.95e-13},{"V":"-300","T":146.5,"I":3.65e-13},{"V":"-300","T":148.5,"I":3.45e-13},{"V":"-300","T":150.5,"I":3.3e-13},{"V":"-300","T":152.5,"I":3.15e-13},{"V":"-300","T":154.5,"I":2.95e-13},{"V":"-300","T":156.5,"I":2.9e-13},{"V":"-300","T":158.5,"I":3.15e-13},{"V":"-300","T":160.5,"I":3.45e-13},{"V":"-300","T":162.5,"I":3.7e-13},{"V":"-300","T":164.5,"I":4.05e-13},{"V":"-300","T":166.5,"I":4.45e-13},{"V":"-300","T":168.5,"I":4.85e-13},{"V":"-300","T":170.5,"I":4.9e-13},{"V":"-300","T":172.5,"I":4.65e-13},
{"V":"-300","T":190,"I":1.9e-13},{"V":"-300","T":191,"I":1.55e-13},{"V":"-300","T":192,"I":1.2e-13},{"V":"-300","T":193,"I":1.0e-13},{"V":"-300","T":194,"I":8.3e-14},{"V":"-300","T":195,"I":6.7e-14},{"V":"-300","T":196,"I":5.5e-14},{"V":"-300","T":197,"I":4.74e-14},{"V":"-300","T":198,"I":4.1e-14},{"V":"-300","T":199,"I":3.8e-14},{"V":"-300","T":200,"I":3.8e-14},{"V":"-300","T":201,"I":4.6e-14},{"V":"-300","T":202,"I":6.0e-14},{"V":"-300","T":203,"I":7.8e-14},{"V":"-300","T":204,"I":1.0e-13},{"V":"-300","T":205,"I":1.3e-13},{"V":"-300","T":206,"I":1.6e-13},{"V":"-300","T":207,"I":1.95e-13},{"V":"-300","T":208,"I":2.35e-13},{"V":"-300","T":209,"I":2.7e-13},{"V":"-300","T":210,"I":3.1e-13},{"V":"-300","T":211,"I":3.55e-13},{"V":"-300","T":212,"I":4.05e-13},{"V":"-300","T":213,"I":4.6e-13},{"V":"-300","T":214,"I":5.25e-13},{"V":"-300","T":215,"I":6.0e-13},{"V":"-300","T":216,"I":6.8e-13},{"V":"-300","T":217,"I":7.7e-13},{"V":"-300","T":218,"I":8.8e-13},{"V":"-300","T":219,"I":1.0e-12},{"V":"-300","T":220,"I":1.13e-12},{"V":"-300","T":221,"I":1.29e-12},{"V":"-300","T":222,"I":1.46e-12},{"V":"-300","T":223,"I":1.66e-12},{"V":"-300","T":224,"I":1.92e-12},{"V":"-300","T":225,"I":2.17e-12},{"V":"-300","T":226,"I":2.45e-12},{"V":"-300","T":227,"I":2.8e-12},{"V":"-300","T":228,"I":3.15e-12},{"V":"-300","T":229,"I":3.55e-12},
{"V":"-500","T":88.1,"I":9.4e-13},{"V":"-500","T":88,"I":3.54e-13},{"V":"-500","T":89,"I":3.06e-13},{"V":"-500","T":90,"I":2.65e-13},{"V":"-500","T":91,"I":2.2e-13},{"V":"-500","T":92,"I":1.83e-13},{"V":"-500","T":93,"I":1.49e-13},{"V":"-500","T":94,"I":1.26e-13},{"V":"-500","T":95,"I":1.04e-13},{"V":"-500","T":96,"I":7.9e-14},{"V":"-500","T":97,"I":6.5e-14},{"V":"-500","T":98,"I":5.7e-14},{"V":"-500","T":99,"I":5.4e-14},{"V":"-500","T":100,"I":5.3e-14},{"V":"-500","T":101,"I":6.3e-14},{"V":"-500","T":102,"I":8.3e-14},{"V":"-500","T":103,"I":1.04e-13},{"V":"-500","T":104,"I":1.23e-13},{"V":"-500","T":105,"I":1.39e-13},{"V":"-500","T":106,"I":1.3e-13},{"V":"-500","T":106.5,"I":9.8e-14},{"V":"-500","T":107,"I":6.1e-14},{"V":"-500","T":107.5,"I":3.6e-14},{"V":"-500","T":108,"I":1.75e-14},{"V":"-500","T":108.5,"I":1.23e-14},{"V":"-500","T":109,"I":2.65e-14},{"V":"-500","T":109.5,"I":4.74e-14},{"V":"-500","T":110,"I":6.7e-14},{"V":"-500","T":110.5,"I":9.2e-14},{"V":"-500","T":111,"I":1.3e-13},{"V":"-500","T":112,"I":1.65e-13},{"V":"-500","T":113,"I":1.75e-13},{"V":"-500","T":114,"I":1.83e-13},{"V":"-500","T":115,"I":1.9e-13},{"V":"-500","T":116,"I":2.1e-13},{"V":"-500","T":117,"I":2.34e-13},{"V":"-500","T":118,"I":2.77e-13},{"V":"-500","T":119,"I":3.25e-13},{"V":"-500","T":120,"I":3.85e-13},{"V":"-500","T":121,"I":4.27e-13},{"V":"-500","T":122,"I":4.74e-13},{"V":"-500","T":123,"I":5.26e-13},{"V":"-500","T":124,"I":5.7e-13},{"V":"-500","T":125,"I":6.2e-13},{"V":"-500","T":126,"I":6.7e-13},{"V":"-500","T":127,"I":7.1e-13},{"V":"-500","T":128,"I":7.5e-13},{"V":"-500","T":129,"I":7.9e-13},{"V":"-500","T":130,"I":8.2e-13},{"V":"-500","T":131,"I":8.5e-13},{"V":"-500","T":132,"I":8.7e-13},{"V":"-500","T":133,"I":8.9e-13},{"V":"-500","T":134,"I":9.0e-13},{"V":"-500","T":135,"I":9.1e-13},{"V":"-500","T":136,"I":9.1e-13},{"V":"-500","T":137,"I":9.1e-13},{"V":"-500","T":138,"I":9.0e-13},{"V":"-500","T":139,"I":8.9e-13},{"V":"-500","T":140,"I":8.7e-13},{"V":"-500","T":141,"I":8.5e-13},{"V":"-500","T":142,"I":8.3e-13},{"V":"-500","T":143,"I":8.0e-13},{"V":"-500","T":144,"I":7.7e-13},{"V":"-500","T":145,"I":7.2e-13},{"V":"-500","T":146,"I":6.8e-13},{"V":"-500","T":147,"I":6.2e-13},{"V":"-500","T":148,"I":5.8e-13},{"V":"-500","T":149,"I":5.37e-13},{"V":"-500","T":150,"I":4.84e-13},{"V":"-500","T":151,"I":4.36e-13},{"V":"-500","T":152,"I":3.93e-13},{"V":"-500","T":153,"I":3.6e-13},{"V":"-500","T":154,"I":3.25e-13},{"V":"-500","T":155,"I":2.88e-13},{"V":"-500","T":156,"I":2.54e-13},{"V":"-500","T":157,"I":2.24e-13},{"V":"-500","T":158,"I":1.98e-13},{"V":"-500","T":159,"I":1.83e-13},{"V":"-500","T":160,"I":1.68e-13},{"V":"-500","T":161,"I":1.58e-13},{"V":"-500","T":162,"I":1.5e-13},{"V":"-500","T":163,"I":1.45e-13},{"V":"-500","T":164,"I":1.45e-13},{"V":"-500","T":165,"I":1.47e-13},{"V":"-500","T":166,"I":1.54e-13},{"V":"-500","T":167,"I":1.6e-13},{"V":"-500","T":168,"I":1.54e-13},{"V":"-500","T":169,"I":1.54e-13},{"V":"-500","T":170,"I":1.65e-13},{"V":"-500","T":171,"I":1.68e-13},{"V":"-500","T":172,"I":1.6e-13},{"V":"-500","T":173,"I":1.54e-13},{"V":"-500","T":174,"I":1.6e-13},{"V":"-500","T":175,"I":1.65e-13},{"V":"-500","T":176,"I":1.58e-13},{"V":"-500","T":177,"I":1.54e-13},{"V":"-500","T":178,"I":1.58e-13},{"V":"-500","T":179,"I":1.65e-13},{"V":"-500","T":180,"I":1.68e-13},{"V":"-500","T":181,"I":1.83e-13},{"V":"-500","T":182,"I":2.0e-13},{"V":"-500","T":183,"I":2.15e-13},{"V":"-500","T":184,"I":2.34e-13},{"V":"-500","T":185,"I":2.44e-13},{"V":"-500","T":186,"I":2.44e-13},{"V":"-500","T":187,"I":2.34e-13},{"V":"-500","T":188,"I":2.1e-13},{"V":"-500","T":189,"I":1.83e-13},
{"V":"-500","T":161.5,"I":1.25e-13},{"V":"-500","T":163.5,"I":1.9e-13},{"V":"-500","T":165.5,"I":1.2e-13},{"V":"-500","T":167.5,"I":2.0e-13},{"V":"-500","T":169.5,"I":1.2e-13},{"V":"-500","T":171.5,"I":2.1e-13},{"V":"-500","T":173.5,"I":1.25e-13},{"V":"-500","T":175.5,"I":2.0e-13},{"V":"-500","T":177.5,"I":1.22e-13},{"V":"-500","T":179.5,"I":1.95e-13},
{"V":"-500","T":106.75,"I":7.7e-14},{"V":"-500","T":107.25,"I":4.7e-14},{"V":"-500","T":107.75,"I":2.5e-14},{"V":"-500","T":108.75,"I":1.8e-14},{"V":"-500","T":109.25,"I":3.5e-14},{"V":"-500","T":109.75,"I":5.6e-14},{"V":"-500","T":110.25,"I":7.9e-14},{"V":"-500","T":110.75,"I":1.1e-13},
{"V":"-500","T":190,"I":1.7e-13},{"V":"-500","T":191,"I":1.35e-13},{"V":"-500","T":192,"I":1.05e-13},{"V":"-500","T":193,"I":8.5e-14},{"V":"-500","T":194,"I":7.3e-14},{"V":"-500","T":195,"I":6.3e-14},{"V":"-500","T":196,"I":5.6e-14},{"V":"-500","T":197,"I":5.0e-14},{"V":"-500","T":198,"I":4.6e-14},{"V":"-500","T":199,"I":4.8e-14},{"V":"-500","T":200,"I":5.2e-14},{"V":"-500","T":201,"I":6.0e-14},{"V":"-500","T":202,"I":7.5e-14},{"V":"-500","T":203,"I":9.5e-14},{"V":"-500","T":204,"I":1.15e-13},{"V":"-500","T":205,"I":1.35e-13},{"V":"-500","T":206,"I":1.6e-13},{"V":"-500","T":207,"I":1.9e-13},{"V":"-500","T":208,"I":2.2e-13},{"V":"-500","T":209,"I":2.55e-13},{"V":"-500","T":210,"I":2.9e-13},{"V":"-500","T":211,"I":3.35e-13},{"V":"-500","T":212,"I":3.8e-13},{"V":"-500","T":213,"I":4.4e-13},{"V":"-500","T":214,"I":5.0e-13},{"V":"-500","T":215,"I":5.7e-13},{"V":"-500","T":216,"I":6.5e-13},{"V":"-500","T":217,"I":7.3e-13},{"V":"-500","T":218,"I":8.3e-13},{"V":"-500","T":219,"I":9.5e-13},{"V":"-500","T":220,"I":1.08e-12},{"V":"-500","T":221,"I":1.23e-12},{"V":"-500","T":222,"I":1.4e-12},{"V":"-500","T":223,"I":1.58e-12},{"V":"-500","T":224,"I":1.83e-12},{"V":"-500","T":225,"I":2.07e-12},{"V":"-500","T":226,"I":2.35e-12},{"V":"-500","T":227,"I":2.65e-12},{"V":"-500","T":228,"I":3.0e-12},{"V":"-500","T":229,"I":3.4e-12},
{"V":"-700","T":91.8,"I":2.15e-12},{"V":"-700","T":92.1,"I":1.0e-12},{"V":"-700","T":92.0,"I":2.3e-13},{"V":"-700","T":92.3,"I":3.8e-14},{"V":"-700","T":92.5,"I":1.6e-13},{"V":"-700","T":93.0,"I":1.2e-13},{"V":"-700","T":93.5,"I":6.0e-14},{"V":"-700","T":94.0,"I":1.3e-13},{"V":"-700","T":94.5,"I":1.8e-13},{"V":"-700","T":95.0,"I":1.1e-13},{"V":"-700","T":96.0,"I":1.3e-13},{"V":"-700","T":96.5,"I":7.0e-14},{"V":"-700","T":97.0,"I":9.0e-14},{"V":"-700","T":98.0,"I":1.2e-13},{"V":"-700","T":98.5,"I":1.7e-13},{"V":"-700","T":99.0,"I":1.0e-13},{"V":"-700","T":100.0,"I":1.4e-13},{"V":"-700","T":100.5,"I":8.0e-14},{"V":"-700","T":101.0,"I":1.2e-13},{"V":"-700","T":101.5,"I":6.5e-14},{"V":"-700","T":102.0,"I":1.1e-13},{"V":"-700","T":102.5,"I":1.5e-13},{"V":"-700","T":103.0,"I":8.5e-14},{"V":"-700","T":104.0,"I":6.0e-14},{"V":"-700","T":104.5,"I":4.0e-14},{"V":"-700","T":105.0,"I":2.5e-14},{"V":"-700","T":105.5,"I":1.5e-14},
{"V":"-700","T":106.0,"I":1.28e-14},{"V":"-700","T":106.25,"I":1.5e-14},{"V":"-700","T":106.5,"I":1.75e-14},{"V":"-700","T":106.75,"I":2.8e-14},{"V":"-700","T":107.0,"I":4.45e-14},{"V":"-700","T":107.25,"I":6.1e-14},{"V":"-700","T":107.5,"I":8.3e-14},{"V":"-700","T":107.75,"I":1.05e-13},{"V":"-700","T":108.0,"I":1.34e-13},{"V":"-700","T":108.5,"I":1.71e-13},{"V":"-700","T":109.0,"I":2.2e-13},{"V":"-700","T":109.5,"I":2.65e-13},{"V":"-700","T":110.0,"I":3.13e-13},{"V":"-700","T":110.5,"I":3.7e-13},{"V":"-700","T":111.0,"I":4.18e-13},{"V":"-700","T":111.5,"I":4.45e-13},{"V":"-700","T":112.0,"I":4.84e-13},{"V":"-700","T":112.5,"I":5.05e-13},{"V":"-700","T":113.0,"I":5.37e-13},{"V":"-700","T":113.5,"I":5.6e-13},{"V":"-700","T":114.0,"I":6.1e-13},{"V":"-700","T":114.5,"I":6.6e-13},{"V":"-700","T":115.0,"I":7.2e-13},{"V":"-700","T":115.5,"I":7.8e-13},{"V":"-700","T":116.0,"I":8.5e-13},{"V":"-700","T":116.5,"I":9.2e-13},{"V":"-700","T":117.0,"I":1.04e-12},{"V":"-700","T":117.5,"I":1.23e-12},{"V":"-700","T":118.0,"I":1.45e-12},{"V":"-700","T":118.5,"I":1.68e-12},{"V":"-700","T":119.0,"I":1.86e-12},{"V":"-700","T":119.5,"I":2.11e-12},{"V":"-700","T":120.0,"I":2.3e-12},{"V":"-700","T":120.5,"I":2.5e-12},{"V":"-700","T":121.0,"I":2.77e-12},{"V":"-700","T":121.5,"I":3.06e-12},{"V":"-700","T":122.0,"I":3.33e-12},{"V":"-700","T":122.5,"I":3.7e-12},{"V":"-700","T":123.0,"I":4.1e-12},{"V":"-700","T":123.5,"I":4.55e-12},{"V":"-700","T":124.0,"I":4.94e-12},{"V":"-700","T":124.5,"I":5.5e-12},{"V":"-700","T":125.0,"I":5.95e-12},{"V":"-700","T":125.5,"I":6.6e-12},{"V":"-700","T":126.0,"I":7.5e-12},{"V":"-700","T":126.5,"I":8.3e-12},{"V":"-700","T":127.0,"I":9.0e-12},{"V":"-700","T":127.5,"I":9.8e-12},{"V":"-700","T":128.0,"I":1.09e-11},{"V":"-700","T":128.5,"I":1.18e-11},{"V":"-700","T":129.0,"I":1.28e-11},{"V":"-700","T":129.5,"I":1.39e-11},{"V":"-700","T":130.0,"I":1.54e-11},{"V":"-700","T":130.5,"I":1.68e-11},{"V":"-700","T":131.0,"I":1.83e-11},{"V":"-700","T":131.5,"I":1.94e-11},{"V":"-700","T":132.0,"I":2.07e-11},{"V":"-700","T":132.5,"I":2.2e-11},{"V":"-700","T":133.0,"I":2.3e-11},{"V":"-700","T":133.5,"I":2.39e-11},{"V":"-700","T":134.0,"I":2.5e-11},{"V":"-700","T":134.5,"I":2.59e-11},{"V":"-700","T":135.0,"I":2.65e-11},{"V":"-700","T":135.5,"I":2.7e-11},{"V":"-700","T":136.0,"I":2.77e-11},{"V":"-700","T":136.5,"I":2.83e-11},{"V":"-700","T":137.0,"I":2.88e-11},{"V":"-700","T":137.5,"I":2.88e-11},{"V":"-700","T":138.0,"I":2.88e-11},{"V":"-700","T":138.5,"I":2.83e-11},{"V":"-700","T":139.0,"I":2.77e-11},{"V":"-700","T":139.5,"I":2.7e-11},{"V":"-700","T":140.0,"I":2.54e-11},{"V":"-700","T":140.5,"I":2.43e-11},{"V":"-700","T":141.0,"I":2.07e-11},{"V":"-700","T":141.25,"I":1.82e-11},{"V":"-700","T":141.5,"I":1.6e-11},{"V":"-700","T":141.75,"I":1.39e-11},{"V":"-700","T":142.0,"I":1.2e-11},{"V":"-700","T":142.25,"I":1.02e-11},{"V":"-700","T":142.5,"I":8.6e-12},{"V":"-700","T":142.75,"I":7.2e-12},{"V":"-700","T":143.0,"I":6.1e-12},{"V":"-700","T":143.25,"I":5.27e-12},{"V":"-700","T":143.5,"I":4.55e-12},{"V":"-700","T":143.75,"I":3.93e-12},{"V":"-700","T":144.0,"I":3.4e-12},{"V":"-700","T":144.25,"I":2.86e-12},{"V":"-700","T":144.5,"I":2.4e-12},{"V":"-700","T":144.75,"I":2.03e-12},{"V":"-700","T":145.0,"I":1.71e-12},{"V":"-700","T":145.25,"I":1.45e-12},{"V":"-700","T":145.5,"I":1.23e-12},{"V":"-700","T":145.75,"I":1.05e-12},{"V":"-700","T":146.0,"I":9.0e-13},{"V":"-700","T":146.25,"I":7.7e-13},{"V":"-700","T":146.5,"I":6.6e-13},{"V":"-700","T":146.75,"I":5.65e-13},{"V":"-700","T":147.0,"I":4.84e-13},{"V":"-700","T":147.25,"I":4.14e-13},{"V":"-700","T":147.5,"I":3.54e-13},{"V":"-700","T":147.75,"I":3.13e-13},{"V":"-700","T":148.0,"I":2.77e-13},{"V":"-700","T":148.25,"I":2.47e-13},{"V":"-700","T":148.5,"I":2.2e-13},{"V":"-700","T":148.75,"I":1.99e-13},{"V":"-700","T":149.0,"I":1.8e-13},{"V":"-700","T":149.25,"I":1.62e-13},{"V":"-700","T":149.5,"I":1.45e-13},{"V":"-700","T":149.75,"I":1.3e-13},{"V":"-700","T":150.0,"I":1.16e-13},{"V":"-700","T":150.25,"I":1.02e-13},{"V":"-700","T":150.5,"I":9.0e-14},{"V":"-700","T":150.75,"I":7.7e-14},{"V":"-700","T":151.0,"I":6.6e-14},{"V":"-700","T":151.25,"I":5.6e-14},{"V":"-700","T":151.5,"I":4.73e-14},{"V":"-700","T":151.75,"I":4.27e-14},{"V":"-700","T":152.0,"I":3.85e-14},{"V":"-700","T":152.25,"I":3.2e-14},{"V":"-700","T":152.5,"I":2.65e-14},{"V":"-700","T":152.75,"I":2.2e-14},{"V":"-700","T":153.0,"I":1.83e-14},{"V":"-700","T":153.25,"I":1.5e-14},{"V":"-700","T":153.5,"I":1.23e-14},
{"V":"-700","T":154.0,"I":1.75e-14},{"V":"-700","T":154.25,"I":2.05e-14},{"V":"-700","T":154.5,"I":2.4e-14},{"V":"-700","T":154.75,"I":3.0e-14},{"V":"-700","T":155.0,"I":3.77e-14},{"V":"-700","T":155.25,"I":4.27e-14},{"V":"-700","T":155.5,"I":4.84e-14},{"V":"-700","T":155.75,"I":5.7e-14},{"V":"-700","T":156.0,"I":6.7e-14},{"V":"-700","T":156.25,"I":8.3e-14},{"V":"-700","T":156.5,"I":1.02e-13},{"V":"-700","T":156.75,"I":1.15e-13},{"V":"-700","T":157.0,"I":1.3e-13},{"V":"-700","T":157.25,"I":1.41e-13},{"V":"-700","T":157.5,"I":1.54e-13},{"V":"-700","T":158.0,"I":1.83e-13},{"V":"-700","T":158.5,"I":2.0e-13},{"V":"-700","T":159.0,"I":2.2e-13},{"V":"-700","T":159.5,"I":2.44e-13},{"V":"-700","T":160.0,"I":2.7e-13},{"V":"-700","T":160.5,"I":2.88e-13},{"V":"-700","T":161.0,"I":3.06e-13},{"V":"-700","T":161.5,"I":3.25e-13},{"V":"-700","T":162.0,"I":3.4e-13},{"V":"-700","T":163,"I":3.77e-13},{"V":"-700","T":164,"I":4.18e-13},{"V":"-700","T":165,"I":4.55e-13},{"V":"-700","T":166,"I":4.95e-13},{"V":"-700","T":167,"I":5.26e-13},{"V":"-700","T":168,"I":5.6e-13},{"V":"-700","T":169,"I":5.85e-13},{"V":"-700","T":170,"I":6.1e-13},{"V":"-700","T":171,"I":6.2e-13},{"V":"-700","T":172,"I":6.2e-13},{"V":"-700","T":173,"I":5.9e-13},{"V":"-700","T":174,"I":5.6e-13},{"V":"-700","T":175,"I":5.26e-13},{"V":"-700","T":176,"I":4.74e-13},{"V":"-700","T":177,"I":4.27e-13},{"V":"-700","T":178,"I":3.85e-13},{"V":"-700","T":179,"I":3.26e-13},{"V":"-700","T":180,"I":2.77e-13},{"V":"-700","T":181,"I":2.4e-13},{"V":"-700","T":182,"I":2.15e-13},{"V":"-700","T":183,"I":1.94e-13},{"V":"-700","T":184,"I":1.57e-13},{"V":"-700","T":185,"I":1.3e-13},{"V":"-700","T":186,"I":1.08e-13},{"V":"-700","T":186.5,"I":9.4e-14},{"V":"-700","T":187,"I":8.1e-14},{"V":"-700","T":187.5,"I":7.1e-14},{"V":"-700","T":188,"I":6.3e-14},{"V":"-700","T":188.5,"I":5.9e-14},{"V":"-700","T":189,"I":5.5e-14},{"V":"-700","T":189.5,"I":5.1e-14},{"V":"-700","T":190,"I":4.74e-14},{"V":"-700","T":190.5,"I":4.35e-14},{"V":"-700","T":191,"I":4.0e-14},{"V":"-700","T":191.5,"I":3.7e-14},{"V":"-700","T":192,"I":3.4e-14},{"V":"-700","T":192.5,"I":3.07e-14},{"V":"-700","T":193,"I":2.77e-14},{"V":"-700","T":193.5,"I":2.5e-14},{"V":"-700","T":194,"I":2.24e-14},{"V":"-700","T":194.5,"I":1.98e-14},{"V":"-700","T":195,"I":1.75e-14},{"V":"-700","T":195.5,"I":1.47e-14},{"V":"-700","T":196,"I":1.23e-14},{"V":"-700","T":196.5,"I":1.0e-14},
{"V":"-700","T":192.7,"I":1.5e-14},{"V":"-700","T":193.7,"I":1.2e-14},{"V":"-700","T":194.7,"I":2.0e-14},{"V":"-700","T":195.7,"I":1.1e-14},{"V":"-700","T":191.7,"I":1.9e-14},{"V":"-700","T":152.8,"I":1.1e-14},{"V":"-700","T":154.2,"I":1.3e-14},{"V":"-700","T":151.8,"I":1.6e-14},{"V":"-700","T":155.3,"I":1.1e-14},{"V":"-700","T":150.9,"I":2.2e-14},
{"V":"-700","T":197.5,"I":2.4e-14},{"V":"-700","T":197.75,"I":3.4e-14},{"V":"-700","T":198,"I":4.74e-14},{"V":"-700","T":198.25,"I":5.8e-14},{"V":"-700","T":198.5,"I":7.2e-14},{"V":"-700","T":199,"I":8.8e-14},{"V":"-700","T":199.5,"I":1.0e-13},{"V":"-700","T":200,"I":1.07e-13},{"V":"-700","T":201,"I":1.2e-13},{"V":"-700","T":202,"I":1.37e-13},{"V":"-700","T":203,"I":1.54e-13},{"V":"-700","T":204,"I":1.8e-13},{"V":"-700","T":205,"I":2.0e-13},{"V":"-700","T":206,"I":2.3e-13},{"V":"-700","T":207,"I":2.6e-13},{"V":"-700","T":208,"I":2.9e-13},{"V":"-700","T":209,"I":3.4e-13},{"V":"-700","T":210,"I":3.8e-13},{"V":"-700","T":211,"I":4.36e-13},{"V":"-700","T":212,"I":4.95e-13},{"V":"-700","T":213,"I":5.7e-13},{"V":"-700","T":214,"I":6.45e-13},{"V":"-700","T":215,"I":7.33e-13},{"V":"-700","T":216,"I":8.3e-13},{"V":"-700","T":217,"I":9.4e-13},{"V":"-700","T":218,"I":1.07e-12},{"V":"-700","T":219,"I":1.23e-12},{"V":"-700","T":220,"I":1.39e-12},{"V":"-700","T":221,"I":1.58e-12},{"V":"-700","T":222,"I":1.8e-12},{"V":"-700","T":223,"I":2.0e-12},{"V":"-700","T":224,"I":2.34e-12},{"V":"-700","T":225,"I":2.65e-12},{"V":"-700","T":226,"I":3.0e-12},{"V":"-700","T":227,"I":3.4e-12},{"V":"-700","T":228,"I":3.85e-12},{"V":"-700","T":229,"I":4.36e-12},{"V":"-700","T":229.5,"I":4.7e-12}
]},
"layer":[
{"mark":{"type":"point","clip":true,"strokeWidth":1,"opacity":1},
 "encoding":{
  "x":{"field":"T","type":"quantitative","scale":{"domain":[83.8,229.5],"nice":false,"zero":false},
   "axis":{"orient":"bottom","values":[100,125,150,175,200,225],"title":"T\u00a0\u00a0\u00a0[K]","tickSize":9,"tickWidth":2,"tickColor":"black","domainColor":"black","domainWidth":2,"labelFont":"Liberation Sans","labelFontSize":40,"labelColor":"black","labelPadding":47,"labelBaseline":"alphabetic","labelFlush":false,"labelOverlap":false,"titleFont":"Liberation Sans","titleFontSize":40,"titleFontWeight":"normal","titleColor":"black","titleX":368,"titleY":93,"titleBaseline":"alphabetic","titleAlign":"center"}},
  "y":{"field":"I","type":"quantitative","scale":{"type":"log","domain":[1e-14,1e-9],"nice":false},
   "axis":{"orient":"left","values":[1e-14,1e-13,1e-12,1e-11,1e-10,1e-9],"labelExpr":"'1E' + round(log(datum.value)/LN10)","title":"|I|\u00a0\u00a0\u00a0\u00a0[A]","tickSize":8,"tickWidth":2,"tickColor":"black","domainColor":"black","domainWidth":2,"labelFont":"Liberation Sans","labelFontSize":40,"labelColor":"black","labelPadding":3,"labelBaseline":"middle","labelFlush":false,"labelOverlap":false,"titleFont":"Liberation Sans","titleFontSize":40,"titleFontWeight":"normal","titleColor":"black","titleX":-132,"titleY":297,"titleAngle":270,"titleBaseline":"alphabetic","titleAlign":"center"}},
  "stroke":{"field":"V","type":"nominal","scale":{"domain":["0","-50","-100","-300","-500","-700"],"range":["#000000","#ff0000","#00ff00","#0000ff","#00ffff","#ff00ff"]},
   "legend":{"orient":"none","legendX":398,"legendY":-70,"title":["","ZBTSC n-on-p, 10¹⁴ nₑq/cm²"],"titleFont":"Liberation Sans","titleFontSize":24,"titleFontWeight":"normal","titleColor":"black","titleLineHeight":26,"titlePadding":14,"titleLimit":600,"labelFont":"Liberation Sans","labelFontSize":25,"labelColor":"black","labelLimit":400,"labelExpr":"datum.value == '0' ? 'Vcool= 0 V' : 'Vcool=' + datum.value + 'V'","padding":30,"strokeColor":"black","fillColor":"white","rowPadding":6.5,"symbolOffset":18,"labelOffset":23,"symbolStrokeWidth":1.2,"encode":{"legend":{"update":{"strokeWidth":{"value":2}}}}}},
  "fill":{"field":"V","type":"nominal","scale":{"domain":["0","-50","-100","-300","-500","-700"],"range":["#000000","#ffffff","#ffffff","#ffffff","#ffffff","#ffffff"]},"legend":{"title":["","ZBTSC n-on-p, 10¹⁴ nₑq/cm²"]}},
  "shape":{"field":"V","type":"nominal","scale":{"domain":["0","-50","-100","-300","-500","-700"],"range":["square","circle","triangle-up","triangle-down","diamond","triangle-left"]},"legend":{"title":["","ZBTSC n-on-p, 10¹⁴ nₑq/cm²"]}},
  "size":{"field":"V","type":"nominal","scale":{"domain":["0","-50","-100","-300","-500","-700"],"range":[144,160,240,240,240,240]},"legend":{"title":["","ZBTSC n-on-p, 10¹⁴ nₑq/cm²"]}}
 }},
{"transform":[{"filter":"datum.V == '-700' && datum.T == 137"}],
 "mark":{"type":"point","opacity":0},
 "encoding":{
  "x":{"field":"T","type":"quantitative","axis":{"orient":"bottom","values":[87.5,112.5,137.5,162.5,187.5,212.5],"labels":false,"domain":false,"tickSize":6,"tickWidth":2,"tickColor":"black","title":null}},
  "y":{"field":"I","type":"quantitative","scale":{"type":"log"},"axis":{"orient":"left","values":[2e-14,3e-14,4e-14,5e-14,6e-14,7e-14,8e-14,9e-14,2e-13,3e-13,4e-13,5e-13,6e-13,7e-13,8e-13,9e-13,2e-12,3e-12,4e-12,5e-12,6e-12,7e-12,8e-12,9e-12,2e-11,3e-11,4e-11,5e-11,6e-11,7e-11,8e-11,9e-11,2e-10,3e-10,4e-10,5e-10,6e-10,7e-10,8e-10,9e-10],"labels":false,"domain":false,"tickSize":5,"tickWidth":1.5,"tickColor":"black","title":null}}
 }},
{"transform":[{"filter":"datum.V == '-700' && datum.T == 137"}],
 "mark":{"type":"point","opacity":0},
 "encoding":{
  "x":{"field":"T","type":"quantitative","axis":null},
  "y":{"field":"I","type":"quantitative","scale":{"type":"log"},"axis":{"orient":"right","values":[1e-14,1e-13,1e-12,1e-11,1e-10,1e-9],"labels":false,"domain":false,"tickSize":-10,"tickWidth":2,"tickColor":"black","title":null}}
 }},
{"transform":[{"filter":"datum.V == '-700' && datum.T == 137"}],
 "mark":{"type":"point","opacity":0},
 "encoding":{
  "x":{"field":"T","type":"quantitative","axis":null},
  "y":{"field":"I","type":"quantitative","scale":{"type":"log"},"axis":{"orient":"right","values":[2e-14,3e-14,4e-14,5e-14,6e-14,7e-14,8e-14,9e-14,2e-13,3e-13,4e-13,5e-13,6e-13,7e-13,8e-13,9e-13,2e-12,3e-12,4e-12,5e-12,6e-12,7e-12,8e-12,9e-12,2e-11,3e-11,4e-11,5e-11,6e-11,7e-11,8e-11,9e-11,2e-10,3e-10,4e-10,5e-10,6e-10,7e-10,8e-10,9e-10],"labels":false,"domain":false,"tickSize":-6,"tickWidth":1.5,"tickColor":"black","title":null}}
 }}
],
"resolve":{"axis":{"x":"independent","y":"independent"}}
}
